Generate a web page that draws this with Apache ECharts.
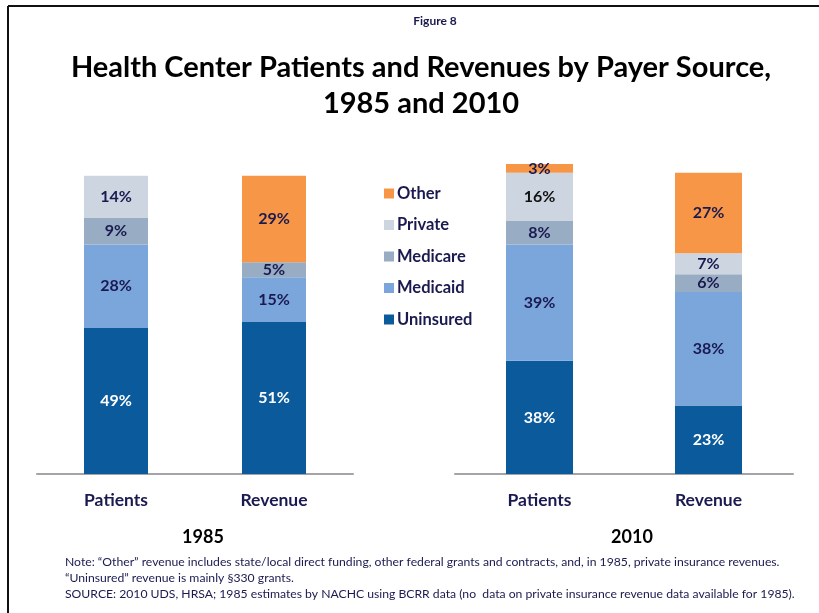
<!DOCTYPE html>
<html>
<head>
<meta charset="utf-8">
<title>Health Center Patients and Revenues by Payer Source</title>
<script src="https://cdn.jsdelivr.net/npm/echarts@6/dist/echarts.min.js"></script>
<style>
    html, body { margin: 0; padding: 0; background: #fff; }
    #chart { width: 819px; height: 613px; }
</style>
</head>
<body>
<div id="chart"></div>
<script>
// categories for each panel
const categories = ['Patients', 'Revenue'];
const years = ['1985', '2010'];
const payers = ['Uninsured', 'Medicaid', 'Medicare', 'Private', 'Other'];

// percent shares, [Patients, Revenue]
const uninsured1985 = [49, 51];
const medicaid1985 = [28, 15];
const medicare1985 = [9, 5];
const private1985 = [14, null];
const other1985 = [null, 29];

const uninsured2010 = [38, 23];
const medicaid2010 = [39, 38];
const medicare2010 = [8, 6];
const private2010 = [16, 7];
const other2010 = [3, 27];

const colors = {
    Uninsured: '#0b5a9c',
    Medicaid: '#7aa6dc',
    Medicare: '#98adc3',
    Private: '#cdd6e0',
    Other: '#f79646'
};
const navy = '#1a1a50';
const font = 'Lato';

const panel1985 = [uninsured1985, medicaid1985, medicare1985, private1985, other1985];
const panel2010 = [uninsured2010, medicaid2010, medicare2010, private2010, other2010];

function makeSeries(values, idx) {
    return payers.map((name, i) => ({
        name: name,
        type: 'bar',
        stack: 'p' + idx,
        xAxisIndex: idx,
        yAxisIndex: idx,
        barWidth: idx === 0 ? 64 : 67,
        itemStyle: { color: colors[name] },
        label: {
            show: true,
            position: 'inside',
            formatter: p => p.value == null ? '' : p.value + '%',
            fontFamily: font,
            fontWeight: 'bold',
            fontSize: 16,
            color: name === 'Uninsured' ? '#fff' : navy
        },
        data: values[i].map((v, j) => {
            // 2010 patients "Private" label is drawn in black in the original
            if (idx === 1 && name === 'Private' && j === 0) {
                return { value: v, label: { color: '#111' } };
            }
            return v;
        })
    }));
}

const chart = echarts.init(document.getElementById('chart'));

const xAxisBase = {
    type: 'category',
    data: categories,
    axisLine: { lineStyle: { color: '#a3a3a8', width: 2 } },
    axisTick: { show: false },
    axisLabel: {
        margin: 17,
        fontFamily: font,
        fontWeight: 'bold',
        fontSize: 17.5,
        color: navy
    }
};
const yAxisBase = { type: 'value', min: 0, max: 110, show: false };

chart.setOption({
    backgroundColor: '#fff',
    animation: false,
    title: [
        {
            text: 'Figure 8', left: 430, top: 10, textAlign: 'center',
            textStyle: { fontFamily: font, fontWeight: 'bold', fontSize: 12, color: navy }
        },
        {
            text: 'Health Center Patients and Revenues by Payer Source,\n1985 and 2010',
            left: 416, top: 45, textAlign: 'center',
            textStyle: { fontFamily: font, fontWeight: 'bold', fontSize: 29, lineHeight: 36, color: '#000' }
        },
        {
            text: years[0], left: 198, top: 523, textAlign: 'center',
            textStyle: { fontFamily: font, fontWeight: 'bold', fontSize: 18, color: '#000' }
        },
        {
            text: years[1], left: 627, top: 523, textAlign: 'center',
            textStyle: { fontFamily: font, fontWeight: 'bold', fontSize: 18, color: '#000' }
        },
        {
            text: 'Note: \u201cOther\u201d revenue includes state/local direct funding, other federal grants and contracts, and, in 1985, private insurance revenues.\n\u201cUninsured\u201d revenue is mainly \u00a7330 grants.\nSOURCE: 2010 UDS, HRSA; 1985 estimates by NACHC using BCRR data (no  data on private insurance revenue data available for 1985).',
            left: 60, top: 549,
            textStyle: { fontFamily: font, fontWeight: 'normal', fontSize: 12.2, lineHeight: 16, color: navy }
        }
    ],
    legend: {
        data: ['Other', 'Private', 'Medicare', 'Medicaid', 'Uninsured'],
        orient: 'vertical',
        left: 379,
        top: 180,
        itemWidth: 10,
        itemHeight: 10,
        itemGap: 14.5,
        icon: 'rect',
        textStyle: { fontFamily: font, fontWeight: 'bold', fontSize: 16.5, color: navy, padding: [0, 0, 0, -2] }
    },
    grid: [
        { left: 37, width: 316, top: 146, bottom: 139 },
        { left: 455, width: 338, top: 146, bottom: 139 }
    ],
    xAxis: [
        Object.assign({ gridIndex: 0 }, xAxisBase),
        Object.assign({ gridIndex: 1 }, xAxisBase)
    ],
    yAxis: [
        Object.assign({ gridIndex: 0 }, yAxisBase),
        Object.assign({ gridIndex: 1 }, yAxisBase)
    ],
    graphic: [
        { type: 'line', shape: { x1: 8, y1: 6, x2: 819, y2: 6 }, style: { stroke: '#111', lineWidth: 2 } },
        { type: 'line', shape: { x1: 8, y1: 6, x2: 8, y2: 613 }, style: { stroke: '#111', lineWidth: 2 } }
    ],
    series: makeSeries(panel1985, 0).concat(makeSeries(panel2010, 1))
});
</script>
</body>
</html>
